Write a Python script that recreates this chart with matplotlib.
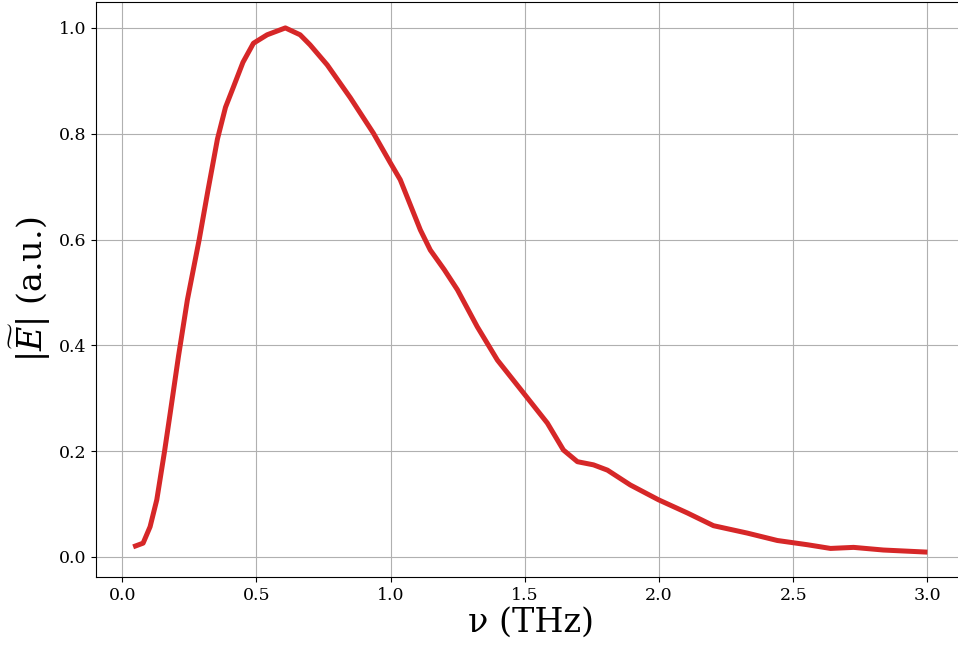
import matplotlib
matplotlib.use("Agg")
import matplotlib.pyplot as plt

# spectrum amplitude, normalised
freq = [0.041, 0.078, 0.104, 0.129, 0.158, 0.179, 0.210, 0.243, 0.287, 0.320,
        0.355, 0.385, 0.415, 0.450, 0.489, 0.540, 0.608, 0.663, 0.700, 0.764,
        0.850, 0.936, 0.999, 1.036, 1.111, 1.148, 1.200, 1.249, 1.323, 1.398,
        1.495, 1.584, 1.644, 1.696, 1.756, 1.808, 1.893, 1.998, 2.106, 2.203,
        2.329, 2.441, 2.553, 2.639, 2.725, 2.836, 3.000]
amp = [0.019, 0.026, 0.057, 0.108, 0.200, 0.272, 0.380, 0.486, 0.600, 0.694,
       0.790, 0.850, 0.889, 0.935, 0.971, 0.987, 1.000, 0.987, 0.968, 0.930,
       0.868, 0.801, 0.745, 0.713, 0.618, 0.580, 0.543, 0.505, 0.435, 0.372,
       0.310, 0.253, 0.202, 0.180, 0.174, 0.164, 0.136, 0.108, 0.083, 0.059,
       0.045, 0.031, 0.023, 0.016, 0.018, 0.013, 0.009]

plt.rcParams['font.family'] = 'DejaVu Serif'
plt.rcParams['mathtext.fontset'] = 'dejavuserif'

fig = plt.figure(figsize=(9.58, 6.49), dpi=100)
ax = fig.add_axes([96/958, 72/649, 871/958, 575/649])

ax.plot(freq, amp, color='#d62728', lw=3.6, solid_capstyle='butt',
        solid_joinstyle='round')
ax.grid(True, color='#b0b0b0', lw=0.8)
ax.set_axisbelow(True)
ax.spines['right'].set_visible(False)

ax.set_xlim(-0.0975, 3.1475)
ax.set_ylim(-0.038, 1.049)
ax.set_xticks([0.0, 0.5, 1.0, 1.5, 2.0, 2.5, 3.0])
ax.set_yticks([0.0, 0.2, 0.4, 0.6, 0.8, 1.0])
ax.tick_params(labelsize=12.5)

ax.set_xlabel('ν (THz)', fontsize=24, labelpad=2)
ax.set_ylabel(r'$|\widetilde{E}|$ (a.u.)', fontsize=24)

fig.savefig('out.png', dpi=100)
